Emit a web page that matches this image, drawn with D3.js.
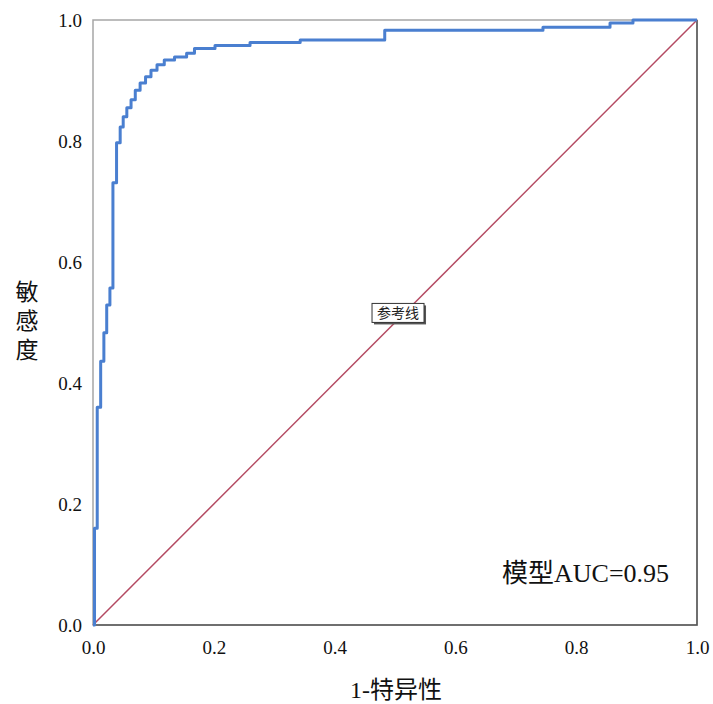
<!DOCTYPE html>
<html>
<head>
<meta charset="utf-8">
<script src="https://cdn.jsdelivr.net/npm/d3@7"></script>
<style>
  body { margin: 0; background: #fff; }
</style>
</head>
<body>
<div id="chart"></div>
<script>
// ROC曲線の角の点 (1-特異性, 敏感度)
var fpr = [0, 0.0025, 0.007, 0.0127, 0.018, 0.0227, 0.028, 0.033, 0.039, 0.045, 0.050, 0.056,
  0.063, 0.070, 0.078, 0.087, 0.096, 0.106, 0.118, 0.135, 0.155, 0.168, 0.202, 0.260, 0.343,
  0.483, 0.745, 0.856, 0.894, 1.0];
var tpr = [0, 0.160, 0.360, 0.436, 0.483, 0.529, 0.557, 0.731, 0.797, 0.823, 0.840, 0.855,
  0.868, 0.884, 0.896, 0.906, 0.917, 0.926, 0.934, 0.939, 0.945, 0.953, 0.958, 0.963, 0.967,
  0.983, 0.988, 0.995, 1.0, 1.0];

// 参考線
var refLine = [0, 1];

// 目盛り
var tickValues = [0, 0.2, 0.4, 0.6, 0.8, 1.0];

var aucLabel = [['模型', 'cjk'], ['AUC=0.95', 'serif']];
var refLabel = '参考线';
var xTitle = [['1-', 'serif'], ['特异性', 'cjk']];
var yTitle = '敏感度';

// 領域のサイズ
var width = 713;
var height = 704;
var margin = {top: 20, right: 16, bottom: 79, left: 93};
var w = width - margin.left - margin.right;
var h = height - margin.top - margin.bottom;

var fonts = {
  serif: '"Liberation Serif", "Times New Roman", serif',
  cjk: '"Noto Sans CJK SC", sans-serif'
};

var svg = d3.select('#chart').append('svg')
  .attr('width', width).attr('height', height);

var g = svg.append('g')
  .attr('transform', 'translate(' + margin.left + ',' + margin.top + ')');

var x = d3.scaleLinear().domain([0, 1]).range([0, w]);
var y = d3.scaleLinear().domain([0, 1]).range([h, 0]);

// 枠
g.append('rect')
  .attr('width', w).attr('height', h)
  .attr('fill', 'none')
  .attr('stroke', '#a6a6a6')
  .attr('stroke-width', 1.5);
g.append('path')
  .attr('d', 'M0,' + h + 'H' + w + 'V0')
  .attr('fill', 'none')
  .attr('stroke', '#555')
  .attr('stroke-width', 1.5);

// 軸（目盛り線なし）
var xAxis = g.append('g')
  .attr('transform', 'translate(0,' + h + ')')
  .call(d3.axisBottom(x).tickValues(tickValues).tickFormat(d3.format('.1f')).tickSize(0).tickPadding(16));
var yAxis = g.append('g')
  .call(d3.axisLeft(y).tickValues(tickValues).tickFormat(d3.format('.1f')).tickSize(0).tickPadding(11));
[xAxis, yAxis].forEach(function(a) {
  a.select('.domain').remove();
  a.selectAll('text')
    .attr('font-family', fonts.serif)
    .attr('font-size', 19)
    .attr('fill', '#111');
});
yAxis.selectAll('text').attr('dy', '0.36em');

// 参考線
g.append('path')
  .datum(refLine)
  .attr('d', d3.line().x(function(d) { return x(d); }).y(function(d) { return y(d); }))
  .attr('fill', 'none')
  .attr('stroke', '#b44a62')
  .attr('stroke-width', 1.5);

// ROC曲線
var rocData = fpr.map(function(d, i) { return [d, tpr[i]]; });
g.append('path')
  .datum(rocData)
  .attr('d', d3.line()
    .x(function(d) { return x(d[0]); })
    .y(function(d) { return y(d[1]); })
    .curve(d3.curveStepAfter))
  .attr('fill', 'none')
  .attr('stroke', '#4a7fd0')
  .attr('stroke-width', 3)
  .attr('stroke-linejoin', 'round');

// 参考線ラベル
var lx = x(0.505);
var ly = y(0.515);
var lab = g.append('g').attr('transform', 'translate(' + lx + ',' + ly + ')');
lab.append('rect')
  .attr('x', -24).attr('y', -8).attr('width', 52).attr('height', 19)
  .attr('fill', '#555');
lab.append('rect')
  .attr('x', -26).attr('y', -10).attr('width', 52).attr('height', 19)
  .attr('fill', '#fff')
  .attr('stroke', '#333')
  .attr('stroke-width', 1);
lab.append('text')
  .attr('x', 0).attr('y', 0)
  .attr('dy', '0.36em')
  .attr('text-anchor', 'middle')
  .attr('font-family', fonts.cjk)
  .attr('font-size', 14)
  .attr('fill', '#222')
  .text(refLabel);

// AUC
g.append('text')
  .attr('x', 409).attr('y', 562)
  .attr('font-size', 26)
  .attr('fill', '#111')
  .selectAll('tspan')
  .data(aucLabel)
  .enter().append('tspan')
  .attr('font-family', function(d) { return fonts[d[1]]; })
  .text(function(d) { return d[0]; });

// 軸タイトル
svg.append('text')
  .attr('x', margin.left + w / 2 + 1).attr('y', 698)
  .attr('text-anchor', 'middle')
  .attr('font-size', 24)
  .attr('fill', '#111')
  .selectAll('tspan')
  .data(xTitle)
  .enter().append('tspan')
  .attr('font-family', function(d) { return fonts[d[1]]; })
  .text(function(d) { return d[0]; });

// 縦書きのy軸タイトル
svg.append('text')
  .attr('x', 27).attr('y', 323)
  .attr('text-anchor', 'middle')
  .style('writing-mode', 'vertical-rl')
  .attr('letter-spacing', 6)
  .attr('font-family', fonts.cjk)
  .attr('font-size', 23)
  .attr('fill', '#111')
  .text(yTitle);
</script>
</body>
</html>
